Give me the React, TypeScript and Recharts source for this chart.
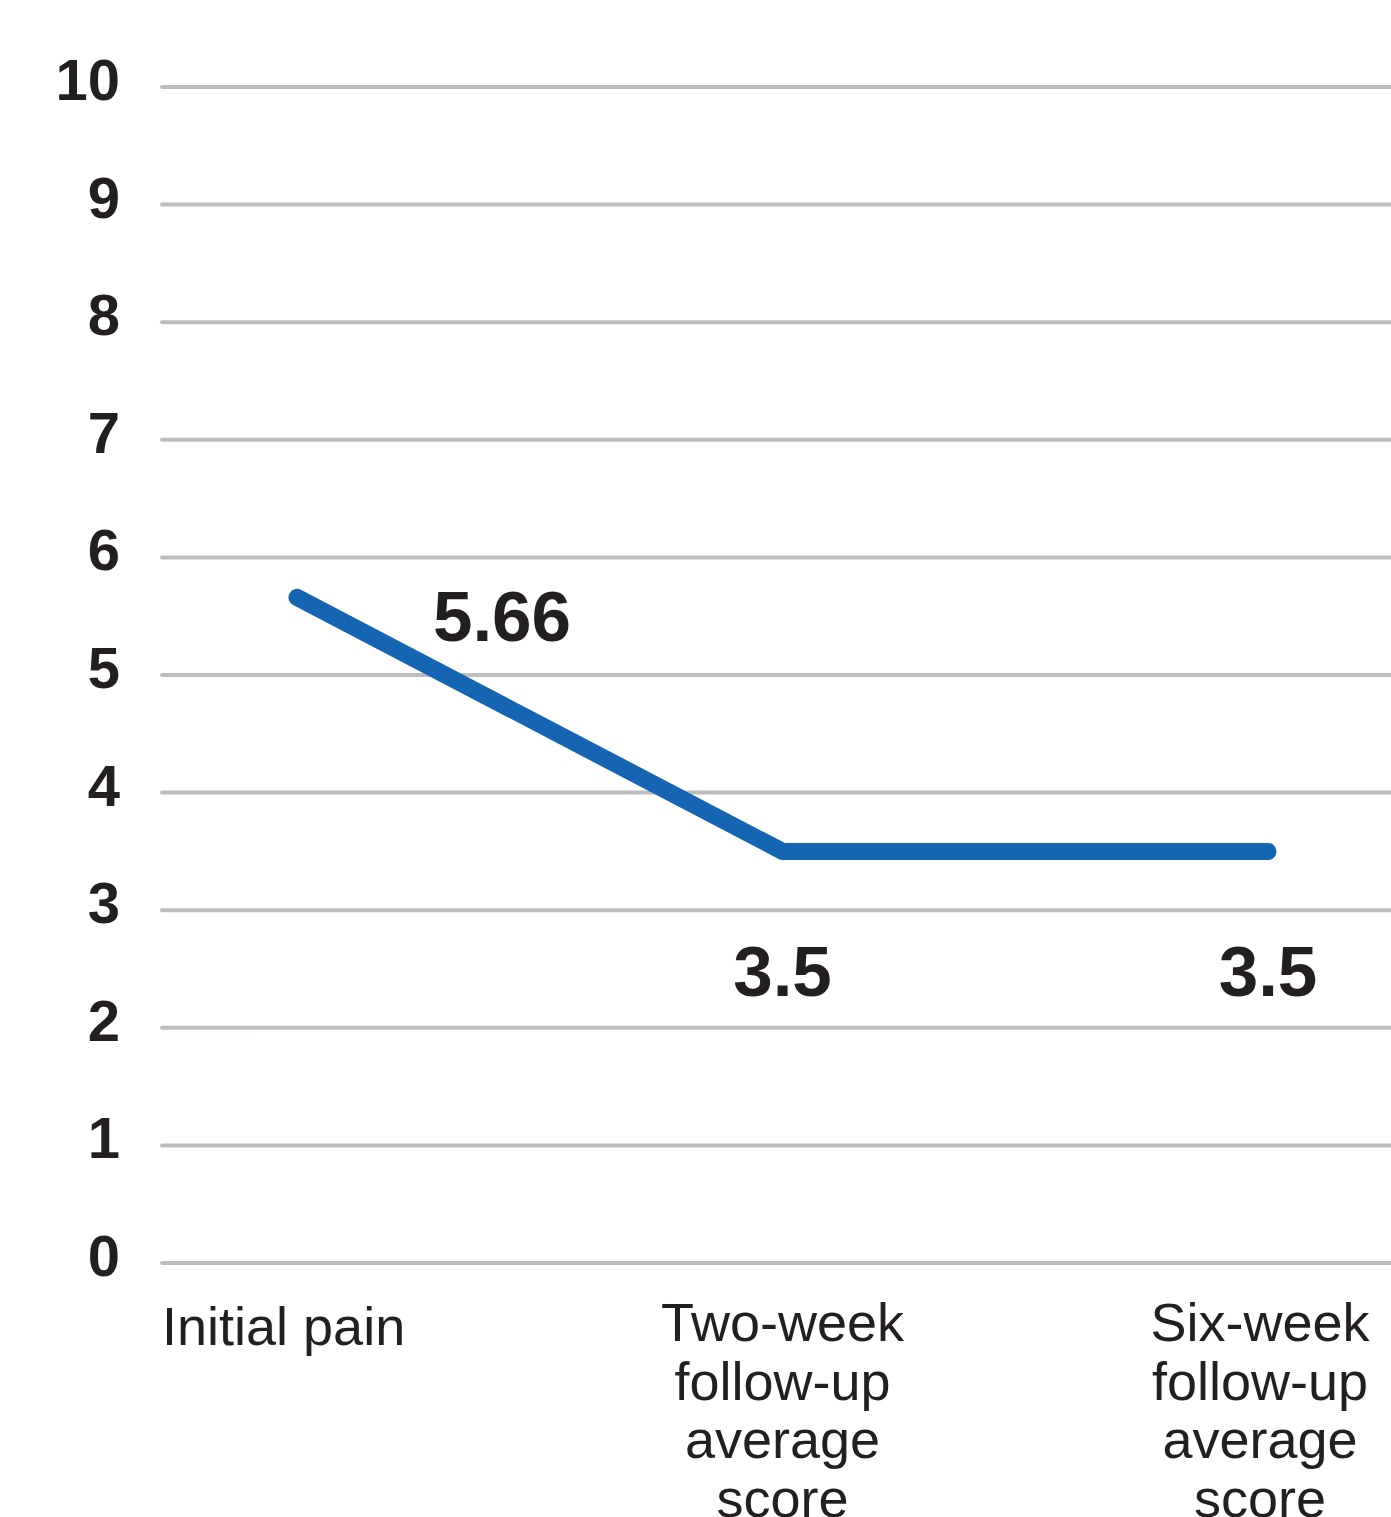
import React from "react";
import { LineChart, Line, XAxis, YAxis, CartesianGrid, LabelList } from "recharts";

// categories shown on the x axis (line breaks are "\n")
const categories = [
  "Initial pain",
  "Two-week\nfollow-up\naverage\nscore",
  "Six-week\nfollow-up\naverage\nscore",
];
// mean pain score per time point
const painScores = [5.66, 3.5, 3.5];
const yTicks = [0, 1, 2, 3, 4, 5, 6, 7, 8, 9, 10];

const data = categories.map((name, i) => ({ name, score: painScores[i] }));

const FONT = "'Liberation Sans', Arial, sans-serif";
const INK = "#231f20";

const XTick = (props: any) => {
  const { x, y, payload, index } = props;
  const lines = String(payload.value).split("\n");
  const first = index === 0;
  // first label is left aligned, the last one sits a little inside the edge
  const tx = first ? x - 135 : index === 2 ? x - 8 : x;
  return (
    <text x={tx} y={y} textAnchor={first ? "start" : "middle"} fontFamily={FONT} fontSize={54} fill={INK}>
      {lines.map((l, i) => (
        <tspan key={i} x={tx} dy={i === 0 ? (first ? 82 : 78) : 58.5}>
          {l}
        </tspan>
      ))}
    </text>
  );
};

const YTick = (props: any) => {
  const { y, payload } = props;
  return (
    <text x={120} y={y + 13} textAnchor="end" fontFamily={FONT} fontWeight="bold" fontSize={58} fill={INK}>
      {payload.value}
    </text>
  );
};

const ValueLabel = (props: any) => {
  const { x, y, value, index } = props;
  const first = index === 0;
  return (
    <text
      x={first ? x + 205 : x}
      y={first ? y + 44 : y + 145}
      textAnchor="middle"
      fontFamily={FONT}
      fontWeight="bold"
      fontSize={71}
      fill={INK}
    >
      {value}
    </text>
  );
};

export default function App() {
  return (
    <div style={{ position: "absolute", left: 0, top: 0, background: "#fff" }}>
      <LineChart width={1391} height={1517} data={data} margin={{ top: 87, right: 0, left: 2, bottom: 0 }}>
        <CartesianGrid vertical={false} stroke="#bcbdc0" strokeWidth={4} strokeLinecap="round" />
        <XAxis
          dataKey="name"
          height={254}
          axisLine={false}
          tickLine={false}
          tickSize={0}
          tickMargin={0}
          padding={{ left: 135, right: 123 }}
          interval={0}
          tick={<XTick />}
        />
        <YAxis
          width={160}
          domain={[0, 10]}
          ticks={yTicks}
          axisLine={false}
          tickLine={false}
          interval={0}
          tick={<YTick />}
        />
        <Line
          type="linear"
          dataKey="score"
          stroke="#1565b3"
          strokeWidth={17}
          strokeLinecap="round"
          strokeLinejoin="round"
          dot={false}
          activeDot={false}
          isAnimationActive={false}
        >
          <LabelList dataKey="score" content={<ValueLabel />} />
        </Line>
      </LineChart>
    </div>
  );
}
